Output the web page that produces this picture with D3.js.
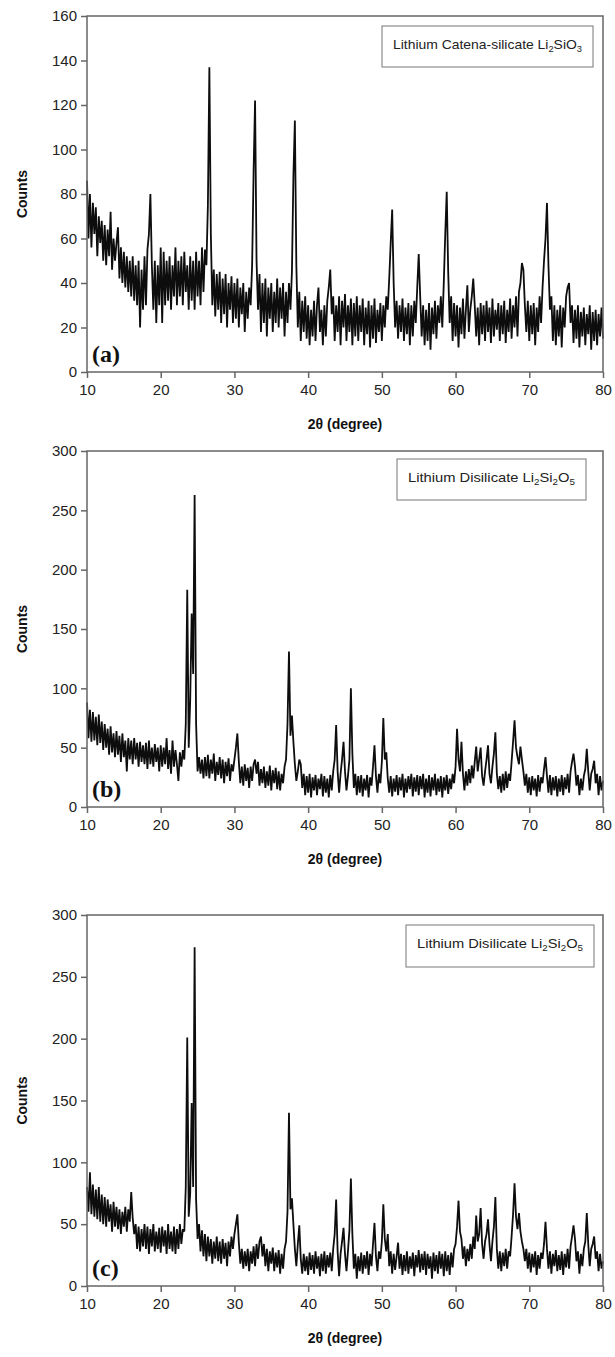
<!DOCTYPE html>
<html>
<head>
<meta charset="utf-8">
<script src="https://cdn.jsdelivr.net/npm/d3@7"></script>
<style>
  body { margin: 0; background: #fff; }
  svg text { font-family: Arial, "Liberation Sans", sans-serif; }
</style>
</head>
<body>
<div id="chart"></div>
<script>
const w = 615;
const h = 1357;

// 2-theta grid: 10 to 80 degrees, 0.2 degree step
const thetaStart = 10;
const thetaStep = 0.2;

// (a) Lithium Catena-silicate
const countsA = [
  86, 60, 80, 56, 76, 62, 74, 52, 70, 58,
  68, 50, 66, 48, 64, 52, 72, 46, 60, 50,
  58, 65, 42, 56, 40, 54, 38, 52, 36, 50,
  34, 52, 32, 48, 30, 50, 20, 46, 28, 52,
  30, 55, 62, 80, 48, 28, 50, 22, 48, 30,
  56, 22, 54, 30, 50, 32, 52, 28, 48, 34,
  56, 30, 50, 34, 52, 30, 54, 36, 48, 28,
  52, 32, 50, 28, 54, 34, 50, 30, 56, 36,
  55, 48, 75, 137, 62, 30, 46, 25, 44, 28,
  45, 22, 42, 26, 44, 20, 40, 28, 43, 22,
  40, 24, 42, 20, 38, 26, 40, 18, 36, 24,
  38, 30, 48, 90, 122, 50, 28, 44, 18, 40,
  22, 42, 16, 38, 24, 40, 18, 36, 22, 42,
  20, 38, 24, 40, 16, 36, 22, 40, 28, 45,
  88, 113, 48, 20, 36, 14, 32, 18, 34, 15,
  30, 12, 28, 16, 32, 14, 30, 38, 18, 28,
  12, 30, 16, 32, 38, 46, 26, 34, 14, 30,
  18, 34, 12, 32, 20, 35, 14, 30, 18, 33,
  12, 31, 16, 34, 14, 30, 18, 33, 12, 29,
  17, 32, 11, 30, 15, 33, 13, 28, 18, 31,
  14, 30, 20, 34, 28, 42, 58, 73, 40, 20,
  32, 15, 30, 18, 33, 14, 29, 17, 31, 12,
  30, 16, 32, 22, 38, 53, 34, 16, 30, 12,
  28, 14, 31, 10, 29, 17, 32, 15, 30, 22,
  34, 20, 40, 62, 81, 45, 22, 34, 14, 31,
  16, 30, 11, 29, 17, 33, 15, 28, 39, 18,
  28, 34, 42, 30, 16, 29, 12, 31, 17, 30,
  14, 32, 18, 29, 13, 33, 16, 28, 19, 31,
  14, 30, 17, 32, 13, 28, 18, 33, 15, 30,
  20, 34, 16, 36, 40, 49, 46, 30, 18, 32,
  14, 30, 17, 31, 12, 29, 18, 34, 22, 38,
  50, 60, 76, 48, 28, 34, 14, 30, 12, 28,
  16, 30, 11, 29, 20, 34, 38, 40, 22, 30,
  13, 28, 15, 30, 11, 27, 16, 29, 12, 26,
  17, 30, 10, 27, 14, 28, 12, 26, 16, 29,
  15
];

// (b) Lithium Disilicate
const countsB = [
  88, 58, 82, 55, 80, 56, 76, 52, 78, 54,
  72, 48, 70, 50, 66, 44, 68, 46, 62, 42,
  64, 44, 60, 38, 62, 42, 56, 30, 58, 40,
  56, 36, 58, 40, 54, 34, 55, 38, 52, 36,
  54, 32, 56, 36, 50, 34, 53, 38, 50, 30,
  52, 34, 50, 36, 58, 32, 48, 28, 56, 34,
  48, 36, 22, 46, 34, 48, 40, 70, 183, 50,
  90, 163, 112, 263, 70, 30, 42, 28, 40, 24,
  42, 26, 44, 24, 40, 28, 45, 22, 38, 27,
  42, 24, 40, 20, 38, 26, 41, 22, 36, 30,
  40, 50, 62, 38, 20, 34, 18, 36, 22, 33,
  16, 34, 22, 36, 40, 28, 38, 18, 32, 20,
  34, 16, 30, 18, 35, 14, 31, 20, 33, 15,
  30, 14, 28, 20, 34, 40, 70, 131, 60, 77,
  55, 36, 22, 30, 40, 36, 16, 28, 10, 26,
  12, 28, 8, 25, 14, 27, 10, 24, 15, 28,
  9, 26, 12, 24, 8, 27, 14, 30, 40, 69,
  30, 12, 28, 40, 55, 30, 14, 26, 40, 100,
  45, 16, 28, 10, 26, 12, 27, 9, 24, 14,
  27, 8, 25, 18, 34, 52, 26, 12, 28, 20,
  38, 75, 40, 46, 24, 12, 26, 9, 24, 13,
  27, 10, 25, 14, 28, 8, 24, 12, 26, 15,
  28, 9, 25, 13, 27, 10, 26, 15, 28, 8,
  24, 12, 27, 9, 25, 14, 28, 10, 24, 13,
  26, 8, 25, 14, 27, 11, 24, 15, 28, 20,
  34, 66, 40, 30, 55, 28, 14, 30, 18, 32,
  20, 35, 24, 38, 51, 30, 40, 50, 26, 18,
  30, 40, 52, 28, 20, 34, 45, 63, 28, 15,
  26, 12, 28, 14, 30, 16, 28, 22, 38, 55,
  73, 50, 42, 36, 51, 40, 30, 18, 28, 12,
  25, 10, 26, 14, 24, 9, 27, 13, 25, 20,
  32, 42, 26, 12, 27, 10, 25, 14, 26, 9,
  24, 13, 27, 10, 25, 15, 28, 12, 30, 38,
  45, 34, 18, 27, 10, 24, 14, 26, 32, 49,
  30, 14, 28, 32, 39, 20, 28, 10, 26, 14,
  22
];

// (c) Lithium Disilicate
const countsC = [
  80, 60, 92, 58, 82, 56, 78, 54, 80, 52,
  74, 50, 72, 48, 70, 52, 66, 44, 68, 48,
  64, 46, 62, 42, 60, 48, 64, 44, 62, 52,
  76, 55, 42, 50, 30, 48, 28, 46, 32, 50,
  30, 48, 26, 46, 32, 50, 28, 44, 30, 47,
  27, 48, 32, 45, 26, 50, 30, 44, 28, 48,
  26, 46, 30, 50, 34, 46, 44, 80, 201, 56,
  75, 148, 80, 274, 70, 38, 50, 28, 45, 24,
  42, 20, 40, 24, 38, 18, 36, 22, 40, 20,
  36, 18, 38, 22, 35, 16, 36, 24, 40, 30,
  42, 50, 58, 35, 18, 30, 14, 28, 16, 30,
  12, 28, 18, 32, 16, 34, 22, 36, 40, 24,
  34, 16, 30, 12, 28, 18, 31, 12, 27, 15,
  29, 10, 26, 14, 30, 36, 60, 140, 62, 71,
  50, 30, 16, 34, 49, 22, 10, 26, 12, 24,
  9, 27, 13, 25, 10, 28, 14, 24, 8, 26,
  12, 28, 10, 25, 15, 27, 12, 30, 42, 70,
  28, 8, 26, 36, 47, 26, 12, 28, 45, 87,
  42, 14, 26, 6, 24, 12, 27, 10, 25, 14,
  28, 9, 26, 16, 34, 51, 24, 12, 28, 22,
  36, 66, 38, 28, 42, 16, 28, 10, 26, 13,
  24, 35, 14, 26, 9, 25, 12, 28, 10, 24,
  14, 27, 8, 25, 15, 29, 11, 26, 13, 28,
  9, 26, 14, 24, 6, 27, 12, 25, 10, 28,
  14, 26, 8, 28, 12, 25, 9, 27, 15, 30,
  34, 48, 69, 44, 38, 22, 32, 16, 30, 20,
  34, 22, 40, 30, 57, 36, 42, 63, 34, 22,
  36, 42, 54, 34, 20, 36, 48, 72, 30, 14,
  28, 12, 27, 16, 30, 14, 28, 24, 40, 58,
  83, 56, 46, 59, 44, 36, 30, 20, 30, 14,
  27, 11, 26, 15, 28, 9, 25, 14, 27, 22,
  34, 52, 30, 14, 28, 10, 26, 16, 29, 12,
  25, 13, 28, 9, 26, 15, 30, 14, 32, 40,
  49, 38, 20, 28, 10, 26, 16, 30, 36, 59,
  34, 16, 30, 34, 40, 22, 28, 12, 26, 14,
  20
];

const xTicks = [10, 20, 30, 40, 50, 60, 70, 80];
const yTicksA = [0, 20, 40, 60, 80, 100, 120, 140, 160];
const yTicksBC = [0, 50, 100, 150, 200, 250, 300];

const svg = d3.select('#chart').append("svg")
              .attr("width", w)
              .attr("height", h);

const left = 87, right = 603;
const frameColor = "#666";

const panels = [
  { counts: countsA, yMax: 160, yTicks: yTicksA, top: 16, bottom: 372, tag: "(a)",
    legend: { x: 382, y: 26, w: 211, h: 41, parts: [["Lithium Catena-silicate Li", 0], ["2", 1], ["SiO", 0], ["3", 1]] } },
  { counts: countsB, yMax: 300, yTicks: yTicksBC, top: 451, bottom: 807, tag: "(b)",
    legend: { x: 397, y: 459, w: 189, h: 41, parts: [["Lithium Disilicate Li", 0], ["2", 1], ["Si", 0], ["2", 1], ["O", 0], ["5", 1]] } },
  { counts: countsC, yMax: 300, yTicks: yTicksBC, top: 915, bottom: 1286, tag: "(c)",
    legend: { x: 406, y: 925, w: 188, h: 42, parts: [["Lithium Disilicate Li", 0], ["2", 1], ["Si", 0], ["2", 1], ["O", 0], ["5", 1]] } }
];

const x = d3.scaleLinear().domain([10, 80]).range([left, right]);

panels.forEach(p => {
  const y = d3.scaleLinear().domain([0, p.yMax]).range([p.bottom, p.top]);
  const g = svg.append("g");

  const data = p.counts.map((c, i) => [thetaStart + i * thetaStep, c]);

  const line = d3.line()
                 .x(d => x(d[0]))
                 .y(d => y(d[1]));

  g.append("path")
   .datum(data)
   .attr("d", line)
   .attr("fill", "none")
   .attr("stroke", "#0d0d0d")
   .attr("stroke-width", 1.8)
   .attr("stroke-linejoin", "bevel");

  // frame
  g.append("rect")
   .attr("x", left)
   .attr("y", p.top)
   .attr("width", right - left)
   .attr("height", p.bottom - p.top)
   .attr("fill", "none")
   .attr("stroke", frameColor)
   .attr("stroke-width", 1.5);

  const xAxis = g.append("g")
                 .attr("transform", `translate(0,${p.bottom})`)
                 .call(d3.axisBottom(x).tickValues(xTicks).tickSize(6).tickPadding(6));
  const yAxis = g.append("g")
                 .attr("transform", `translate(${left},0)`)
                 .call(d3.axisLeft(y).tickValues(p.yTicks).tickSize(6).tickPadding(4));

  [xAxis, yAxis].forEach(ax => {
    ax.select(".domain").remove();
    ax.selectAll("line").attr("stroke", frameColor).attr("stroke-width", 1.5);
    ax.selectAll("text")
      .attr("fill", "#222")
      .style("font-size", "15px")
      .style("font-family", "Arial, 'Liberation Sans', sans-serif");
  });

  // axis titles
  g.append("text")
   .attr("transform", `translate(27,${(p.top + p.bottom) / 2}) rotate(-90)`)
   .attr("text-anchor", "middle")
   .attr("fill", "#111")
   .style("font-size", "14px")
   .style("font-weight", "bold")
   .text("Counts");

  g.append("text")
   .attr("x", (left + right) / 2)
   .attr("y", p.bottom + 57)
   .attr("text-anchor", "middle")
   .attr("fill", "#111")
   .style("font-size", "14px")
   .style("font-weight", "bold")
   .text("2θ (degree)");

  // panel tag
  g.append("text")
   .attr("x", left + 5)
   .attr("y", p.bottom - 10)
   .attr("fill", "#111")
   .style("font-family", "'Liberation Serif', 'Times New Roman', serif")
   .style("font-size", "24px")
   .style("font-weight", "bold")
   .text(p.tag);

  // legend box
  const L = p.legend;
  g.append("rect")
   .attr("x", L.x)
   .attr("y", L.y)
   .attr("width", L.w)
   .attr("height", L.h)
   .attr("fill", "#fff")
   .attr("stroke", "#777")
   .attr("stroke-width", 1);

  const t = g.append("text")
             .attr("x", L.x + L.w / 2)
             .attr("y", L.y + 26)
             .attr("text-anchor", "middle")
             .attr("fill", "#222")
             .attr("textLength", L.w - 22)
             .attr("lengthAdjust", "spacingAndGlyphs")
             .style("font-size", "13.5px");
  L.parts.forEach(([s, sub]) => {
    t.append("tspan")
     .attr("dy", sub ? 3 : (t.selectAll("tspan").size() > 0 ? -3 : 0))
     .style("font-size", sub ? "9px" : "13.5px")
     .text(s);
  });
});
</script>
</body>
</html>
